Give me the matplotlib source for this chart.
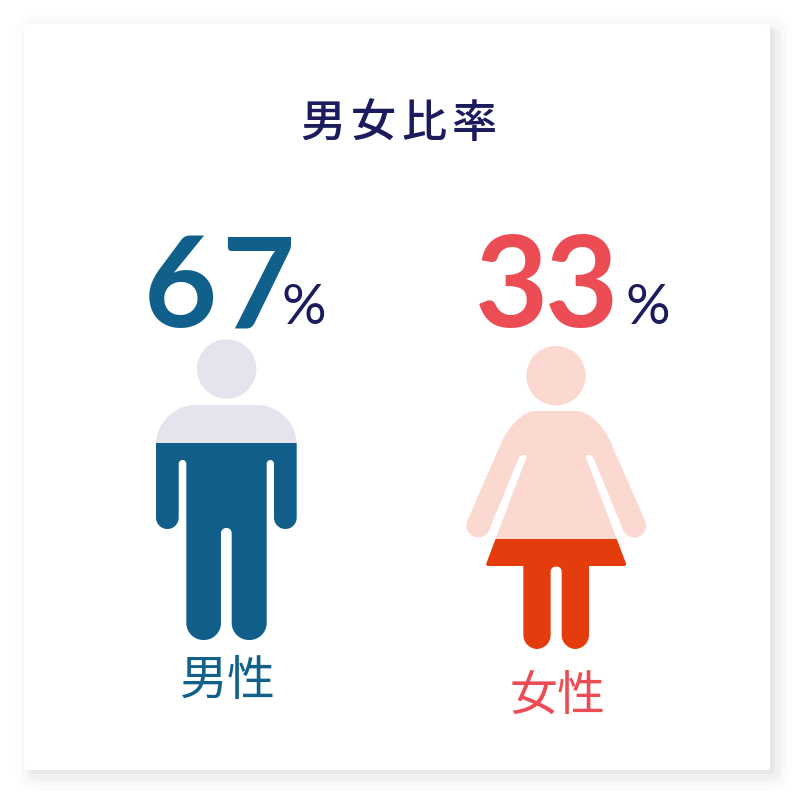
import matplotlib
matplotlib.use("Agg")
import matplotlib.pyplot as plt
import numpy as np
from matplotlib.path import Path
from matplotlib.patches import PathPatch, Circle, FancyBboxPatch, Rectangle

title = "男女比率"
categories = ["男性", "女性"]
percent = [67, 33]
# share of the silhouette height that is filled
fill_share = [0.655, 0.362]
number_colors = ["#11608C", "#EC4D55"]
fill_colors = ["#115E8A", "#E43C0C"]
pale_colors = ["#E4E4EE", "#FBD8D0"]
navy = "#1B1B5E"

fig = plt.figure(figsize=(8.06, 8.06), dpi=100)
ax = fig.add_axes([0, 0, 1, 1])
ax.set_xlim(0, 806); ax.set_ylim(806, 0); ax.axis("off")


def rounded(verts):
    """Closed path through (x, y, d) corners; d = tangent distance or (before, after)."""
    n = len(verts)
    pts, codes = [], []
    for i, (x, y, d) in enumerate(verts):
        p = np.array([x, y], float)
        a = np.array(verts[i - 1][:2], float); b = np.array(verts[(i + 1) % n][:2], float)
        ua = (a - p) / np.linalg.norm(a - p); ub = (b - p) / np.linalg.norm(b - p)
        da, db = d if isinstance(d, tuple) else (d, d)
        if da <= 0:
            pts.append(p); codes.append(Path.MOVETO if i == 0 else Path.LINETO)
            continue
        p0 = p + ua * da; p1 = p + ub * db
        pts.append(p0); codes.append(Path.MOVETO if i == 0 else Path.LINETO)
        pts += [p0 + (p - p0) * 0.55, p1 + (p - p1) * 0.55, p1]
        codes += [Path.CURVE4] * 3
    pts.append(pts[0]); codes.append(Path.CLOSEPOLY)
    return Path(np.array(pts), codes)


male_body = rounded([
    (156, 405, 40), (296.7, 405, 40), (296.7, 529, 11.3), (274, 529, 11.3),
    (274, 460, 3.7), (266.7, 460, 3.7), (266.7, 640, 17), (231.7, 640, 17),
    (231.7, 528, 5), (221, 528, 5), (221, 640, 17), (186.3, 640, 17),
    (186.3, 460, 3.7), (178.7, 460, 3.7), (178.7, 529, 11.3), (156, 529, 11.3)])


def fz(x, y, d):
    d = tuple(v / 3 for v in d) if isinstance(d, tuple) else d / 3
    return (460 + x / 3, 335 + y / 3, d)


half = [(166, 228, (60, 100)), (7.5, 590, 36), (73.5, 619, 36), (180, 360, 9), (202, 360, 9),
        (76, 693, 9), (190, 693, 0), (190, 942, 42), (272, 942, 42), (272, 695, 14)]
mirror = [(577 - x, y, d[::-1] if isinstance(d, tuple) else d) for x, y, d in reversed(half)]
female_body = rounded([fz(*v) for v in half + mirror])

figures = [
    dict(body=male_body, head=(226.7, 369), top=339.3, bottom=640),
    dict(body=female_body, head=(556, 375.7), top=346, bottom=649),
]

# card with layered soft shadow
for (x0, y0, x1, y1), c, r in [((15, 15, 792, 790), "#FCFCFC", 24), ((22, 20, 786, 785), "#F8F8F8", 18),
                               ((27, 27, 781, 781), "#F0F0F0", 12), ((29, 29, 775, 774), "#E7E7E7", 6)]:
    ax.add_patch(FancyBboxPatch((x0, y0), x1 - x0, y1 - y0,
                                boxstyle=f"round,pad=0,rounding_size={r}", fc=c, ec="none"))
ax.add_patch(FancyBboxPatch((24, 24), 746, 746, boxstyle="round,pad=0,rounding_size=3",
                            fc="white", ec="none"))

# title
for i, ch in enumerate(title):
    ax.text(323 + 50.5 * i, 123.5, ch, family="Noto Sans CJK JP", weight="medium", fontsize=32.5,
            color=navy, ha="center", va="center")

# pictograms, filled from the bottom
for f, share, light, dark in zip(figures, fill_share, pale_colors, fill_colors):
    h = f["bottom"] - f["top"]
    split = f["bottom"] - share * h
    for color, (a, b) in ((light, (0, split)), (dark, (split, 806))):
        clip = Rectangle((0, a), 806, b - a, transform=ax.transData)
        patch = PathPatch(f["body"], fc=color, ec="none")
        ax.add_patch(patch)
        patch.set_clip_path(clip)
    ax.add_patch(Circle(f["head"], 29.7, fc=light, ec="none"))

# numbers, digit by digit so the pitch can match
num_x = [180.5, 512]
num_pitch = [77, 69.5]
pct_x = [303.5, 647.5]
for v, c, x, pitch, px in zip(percent, number_colors, num_x, num_pitch, pct_x):
    for i, digit in enumerate(str(v)):
        ax.text(x + pitch * i, 327, digit, family="Lato", weight="bold", fontsize=91, color=c,
                ha="center", va="baseline")
    ax.text(px, 323.5, "%", family="Lato", weight="normal", fontsize=40, color=navy,
            ha="center", va="baseline")

# category labels
label_pos = [(203.5, 681.5), (533.5, 696.5)]
for name, c, (x, y) in zip(categories, number_colors, label_pos):
    for i, ch in enumerate(name):
        ax.text(x + 47 * i, y, ch, family="Noto Sans CJK JP", weight="normal", fontsize=34.5,
                color=c, ha="center", va="center")

fig.savefig("out.png", dpi=100, facecolor="white")
